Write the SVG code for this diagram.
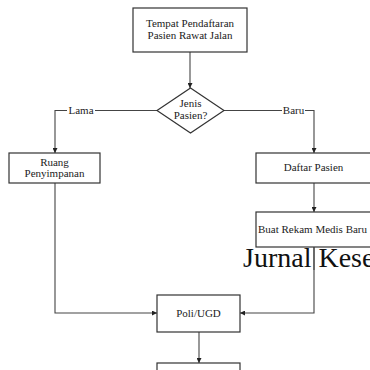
<svg xmlns="http://www.w3.org/2000/svg" width="370" height="370" viewBox="0 0 370 370">
<style>
.box{fill:#fff;stroke:#333;stroke-width:1.2}
.t{font-family:"Liberation Serif","Times New Roman",serif;font-size:11px;fill:#222;text-anchor:middle}
.c{fill:none;stroke:#444;stroke-width:1.1}
.lbl{font-family:"Liberation Serif","Times New Roman",serif;font-size:11px;fill:#222;text-anchor:middle}
</style>
<defs>
<marker id="ah" viewBox="0 0 8 8" refX="8" refY="4" markerWidth="5" markerHeight="5" orient="auto" markerUnits="userSpaceOnUse">
<path d="M0,0 L8,4 L0,8 Z" fill="#222"/>
</marker>
</defs>
<rect width="370" height="370" fill="#fff"/>
<g id="connectors">
<path class="c" d="M190,52 V88" marker-end="url(#ah)"/>
<path class="c" d="M157,110.5 H55 V153" marker-end="url(#ah)"/>
<path class="c" d="M224,110.5 H314 V153" marker-end="url(#ah)"/>
<path class="c" d="M314,183 V212" marker-end="url(#ah)"/>
<path class="c" d="M55,183 V313 H157" marker-end="url(#ah)"/>
<path class="c" d="M314,247 V313 H240" marker-end="url(#ah)"/>
<path class="c" d="M199,332 V363" marker-end="url(#ah)"/>
<rect x="67" y="104" width="28" height="12" fill="#fff"/>
<text class="lbl" x="81" y="114">Lama</text>
<rect x="282" y="104" width="23" height="12" fill="#fff"/>
<text class="lbl" x="293.5" y="114">Baru</text>
</g>
<g id="tempat">
<rect class="box" x="133" y="8" width="114" height="44"/>
<text class="t" x="190" y="27">Tempat Pendaftaran</text>
<text class="t" x="190" y="39">Pasien Rawat Jalan</text>
</g>
<g id="jenis">
<path class="box" d="M190.5,88 L224,110.5 L190.5,133 L157,110.5 Z"/>
<text class="t" x="190.5" y="107">Jenis</text>
<text class="t" x="190.5" y="119">Pasien?</text>
</g>
<g id="ruang">
<rect class="box" x="9" y="153" width="91" height="30"/>
<text class="t" x="54.5" y="165.5">Ruang</text>
<text class="t" x="54.5" y="177">Penyimpanan</text>
</g>
<g id="daftar">
<rect class="box" x="256" y="153" width="116" height="30"/>
<text class="t" x="313.5" y="171">Daftar Pasien</text>
</g>
<g id="buat">
<rect class="box" x="256" y="212" width="116" height="35"/>
<text class="t" x="312.5" y="233">Buat Rekam Medis Baru</text>
</g>
<text x="243" y="267" font-family="'Liberation Serif','Times New Roman',serif" font-size="28" fill="#111">Jurnal Kese</text>
<path class="c" d="M314,247 V270"/>
<g id="poli">
<rect class="box" x="157" y="295" width="83" height="37"/>
<text class="t" x="198.5" y="317">Poli/UGD</text>
</g>
<g id="bottom">
<rect class="box" x="157" y="363" width="83" height="20"/>
</g>
</svg>
